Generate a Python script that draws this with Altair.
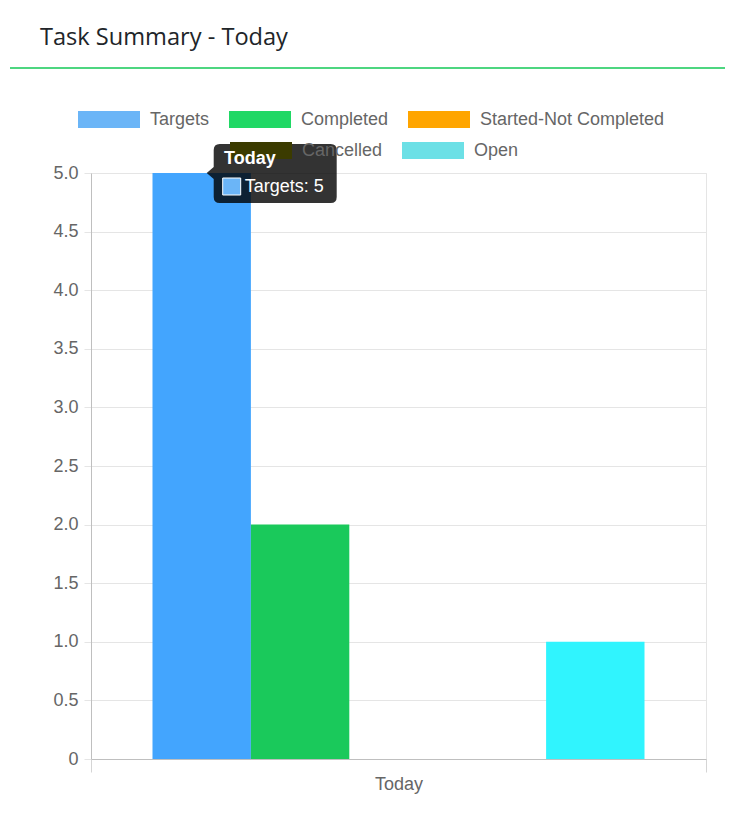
import altair as alt
import pandas as pd

# ---- data -------------------------------------------------------------
heading = "Task Summary - Today"
period = ["Today"]
series = ["Targets", "Completed", "Started-Not Completed", "Cancelled", "Open"]
values = [5, 2, 0, 0, 1]
bar_colors = ["#43a5fe", "#1ac95b", "#ffa500", "#e6e600", "#30f4fe"]
legend_colors = ["#6bb5f7", "#20d865", "#ffa500", "#3b3b00", "#6ce0e6"]
y_ticks = [0, 0.5, 1.0, 1.5, 2.0, 2.5, 3.0, 3.5, 4.0, 4.5, 5.0]
row1 = series[:3]
row2 = series[3:]

# hovered item shown in the tooltip
tip_index = 0

bars_df = pd.DataFrame({"period": period * len(series), "series": series, "value": values})
tip_df = pd.DataFrame({
    "period": period,
    "series": [series[tip_index]],
    "value": [values[tip_index]],
    "label": [f"{series[tip_index]}: {values[tip_index]}"],
})
head_df = pd.DataFrame({"t": [heading]})

FONT = "Liberation Sans"
GREY = "#666666"
GRID = "#e5e5e5"
BOX = "M-1,-0.274H1V0.274H-1Z"


def legend(vals, lx, ly):
    return alt.Legend(
        values=vals,
        orient="none",
        legendX=lx,
        legendY=ly,
        direction="horizontal",
        title=None,
        symbolType=BOX,
        symbolSize=3844,
        symbolStrokeWidth=0,
        symbolOpacity=1,
        labelOffset=10,
        columnPadding=19,
        labelFont=FONT,
        labelFontSize=18,
        labelColor=GREY,
        labelLimit=400,
        padding=0,
    )


x_enc = alt.X(
    "period:N",
    scale=alt.Scale(paddingInner=0, paddingOuter=0),
    axis=alt.Axis(
        title=None, labelAngle=0, tickBand="extent", tickSize=13,
        tickColor="#d5d5d5", domainColor="#bfbfbf", grid=False,
        labelFont=FONT, labelFontSize=18, labelColor=GREY, labelPadding=3,
    ),
)
xo_enc = alt.XOffset(
    "series:N", sort=series,
    scale=alt.Scale(domain=series, paddingInner=0, paddingOuter=0.625),
)
y_enc = alt.Y(
    "value:Q",
    scale=alt.Scale(domain=[0, 5], nice=False, zero=True),
    axis=alt.Axis(
        title=None, values=y_ticks,
        labelExpr="datum.value == 0 ? '0' : format(datum.value, '.1f')",
        tickSize=7, tickColor=GRID, gridColor=GRID, domainColor="#bfbfbf",
        labelFont=FONT, labelFontSize=18, labelColor=GREY, labelPadding=6,
    ),
)

bars = alt.Chart(bars_df).mark_bar(opacity=1).encode(
    x=x_enc,
    xOffset=xo_enc,
    y=y_enc,
    color=alt.Color("series:N", scale=alt.Scale(domain=series, range=bar_colors), legend=None),
)

# legend rows (no marks drawn)
legend1 = alt.Chart(bars_df).transform_filter("false").mark_square().encode(
    x=alt.X("period:N"),
    xOffset=alt.XOffset("series:N", sort=series),
    y=alt.Y("value:Q"),
    color=alt.Color("series:N",
                    scale=alt.Scale(domain=row1, range=legend_colors[:3]),
                    legend=legend(row1, -13, -84.5)),
)
legend2 = alt.Chart(bars_df).transform_filter("false").mark_square().encode(
    x=alt.X("period:N"),
    xOffset=alt.XOffset("series:N", sort=series),
    y=alt.Y("value:Q"),
    color=alt.Color("series:N",
                    scale=alt.Scale(domain=row2, range=legend_colors[3:]),
                    legend=legend(row2, 139, -53.5)),
)

tip_bg_path = ("M5,0L12,-6L12,-23Q12,-29,18,-29L129,-29Q135,-29,135,-23"
               "L135,24Q135,30,129,30L18,30Q12,30,12,24L12,6Z")
tip_sq_path = "M21,5H39V22H21Z"

tip_bg = alt.Chart(tip_df).mark_point(
    shape=tip_bg_path, size=4, filled=True, color="black", opacity=0.8, strokeWidth=0
).encode(x="period:N", xOffset=alt.XOffset("series:N", sort=series), y="value:Q")

tip_sq = alt.Chart(tip_df).mark_point(
    shape=tip_sq_path, size=4, filled=True, fill=legend_colors[tip_index],
    stroke="white", strokeWidth=1, opacity=1
).encode(x="period:N", xOffset=alt.XOffset("series:N", sort=series), y="value:Q")

tip_text = alt.Chart(tip_df).mark_text(
    align="left", baseline="alphabetic", dx=43, dy=19,
    font=FONT, fontSize=18, color="white"
).encode(x="period:N", xOffset=alt.XOffset("series:N", sort=series), y="value:Q", text="label:N")

head = alt.Chart(head_df).mark_text(
    align="left", baseline="alphabetic", font="Open Sans", fontSize=23.6, color="#212529"
).encode(text="t:N", x=alt.value(-51), y=alt.value(-128))

rule = alt.Chart(head_df).mark_rule(color="#12c856", strokeWidth=1.5).encode(
    x=alt.value(-81), x2=alt.value(634), y=alt.value(-105)
)

chart = alt.layer(bars, legend1, legend2, tip_bg, tip_sq, tip_text, head, rule).resolve_scale(
    color="independent"
).resolve_legend(color="independent").properties(
    width=615,
    height=586,
    autosize="none",
    padding={"left": 83, "top": 165, "right": 19, "bottom": 50},
    background="white",
    title=alt.TitleParams(
        text=period[0], anchor="start", frame="group", orient="top",
        font=FONT, fontSize=18, fontWeight="bold", color="white",
        baseline="alphabetic", dx=133, dy=156, offset=0,
    ),
).configure_view(stroke=GRID, strokeWidth=1)

chart.save("out.html", embed_options={"renderer": "svg", "actions": False})
